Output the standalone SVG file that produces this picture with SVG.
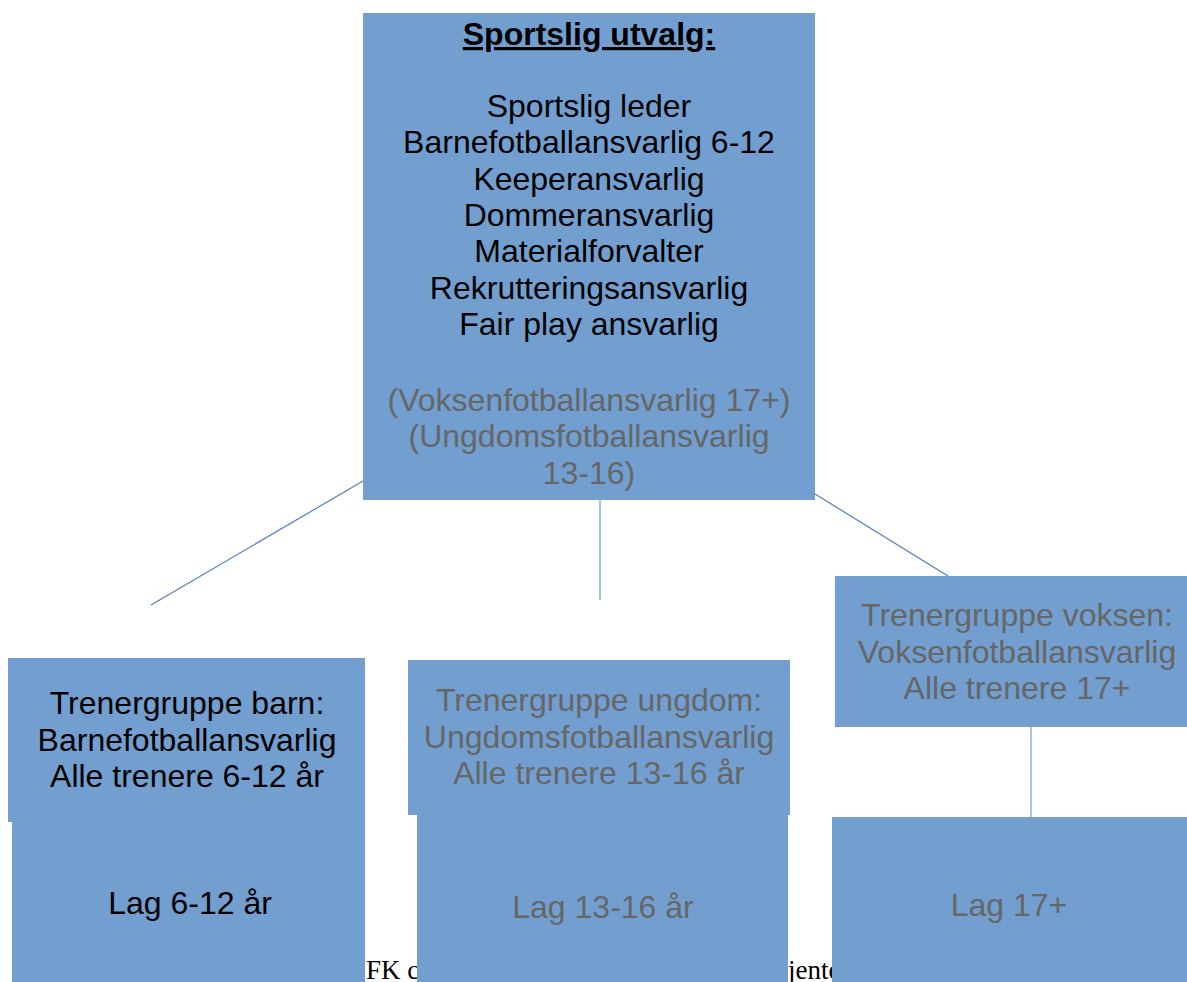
<svg xmlns="http://www.w3.org/2000/svg" width="1187" height="982" viewBox="0 0 1187 982">
<style>
.box{fill:#729fcf;}
.t{font-family:"Liberation Sans",Arial,sans-serif;font-size:32px;text-anchor:middle;fill:#000;}
.g{fill:#666666;}
.bg{font-family:"Liberation Serif","Times New Roman",serif;font-size:27px;fill:#000;}
.c{stroke:#4f7fbf;stroke-width:1.2;fill:none;}
</style>
<rect width="1187" height="982" fill="#fff"/>
<g id="background-text">
<text class="bg" x="366" y="979">FK c</text>
<text class="bg" x="788" y="979">jente</text>
</g>
<g id="connectors">
<line class="c" x1="363" y1="481" x2="151" y2="605"/>
<line class="c" x1="600" y1="500" x2="600" y2="600" stroke-opacity="0.8"/>
<line class="c" x1="815" y1="494" x2="948" y2="576"/>
<line class="c" x1="1031" y1="727" x2="1031" y2="817" stroke-opacity="0.8"/>
</g>
<g id="sportslig-utvalg">
<rect class="box" x="363" y="13" width="452" height="487"/>
<text class="t" x="589" y="45" font-weight="bold" text-decoration="underline">Sportslig utvalg:</text>
<text class="t" x="589" y="117">Sportslig leder</text>
<text class="t" x="589" y="153">Barnefotballansvarlig 6-12</text>
<text class="t" x="589" y="190">Keeperansvarlig</text>
<text class="t" x="589" y="226">Dommeransvarlig</text>
<text class="t" x="589" y="262">Materialforvalter</text>
<text class="t" x="589" y="299">Rekrutteringsansvarlig</text>
<text class="t" x="589" y="335">Fair play ansvarlig</text>
<text class="t g" x="589" y="411">(Voksenfotballansvarlig 17+)</text>
<text class="t g" x="589" y="447">(Ungdomsfotballansvarlig</text>
<text class="t g" x="589" y="484">13-16)</text>
</g>
<g id="trenergruppe-barn">
<rect class="box" x="8" y="658" width="357" height="164"/>
<text class="t" x="187" y="714">Trenergruppe barn:</text>
<text class="t" x="187" y="751">Barnefotballansvarlig</text>
<text class="t" x="187" y="787">Alle trenere 6-12 år</text>
</g>
<g id="lag-barn">
<rect class="box" x="12" y="822" width="353" height="160"/>
<text class="t" x="190" y="914">Lag 6-12 år</text>
</g>
<g id="trenergruppe-ungdom">
<rect class="box" x="408" y="660" width="382" height="155"/>
<text class="t g" x="599" y="711">Trenergruppe ungdom:</text>
<text class="t g" x="599" y="748">Ungdomsfotballansvarlig</text>
<text class="t g" x="599" y="784">Alle trenere 13-16 år</text>
</g>
<g id="lag-ungdom">
<rect class="box" x="417" y="815" width="371" height="167"/>
<text class="t g" x="603" y="918">Lag 13-16 år</text>
</g>
<g id="trenergruppe-voksen">
<rect class="box" x="835" y="576" width="352" height="151"/>
<text class="t g" x="1017" y="626">Trenergruppe voksen:</text>
<text class="t g" x="1017" y="663">Voksenfotballansvarlig</text>
<text class="t g" x="1017" y="699">Alle trenere 17+</text>
</g>
<g id="lag-voksen">
<rect class="box" x="832" y="817" width="355" height="165"/>
<text class="t g" x="1009" y="916">Lag 17+</text>
</g>
</svg>
